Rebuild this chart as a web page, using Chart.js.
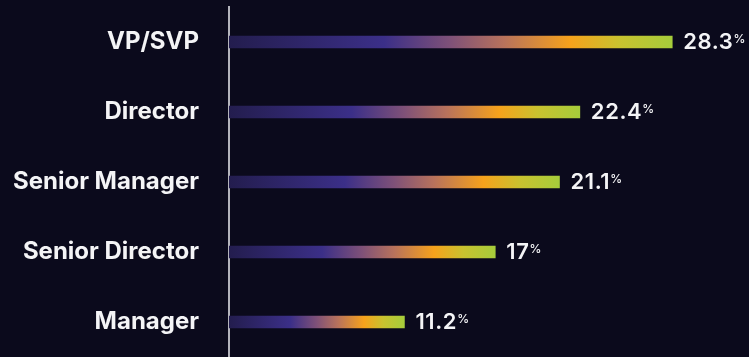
<!DOCTYPE html>
<html lang="en">
<head>
<meta charset="utf-8">
<title>Roles</title>
<script src="https://cdn.jsdelivr.net/npm/chart.js@4.4.1/dist/chart.umd.min.js"></script>
<style>
    html, body { margin: 0; padding: 0; background: #0b0a1c; overflow: hidden; }
</style>
</head>
<body>
<canvas id="rolesChart" width="749" height="357"></canvas>
<script>
// --- Seniority breakdown: horizontal bars with gradient fill ---

const roles = ['VP/SVP', 'Director', 'Senior Manager', 'Senior Director', 'Manager'];
const shares = [28.3, 22.4, 21.1, 17, 11.2];
const valueLabels = ['28.3', '22.4', '21.1', '17', '11.2'];

const gradientStops = [
    [0.00, '#231d4e'],
    [0.35, '#3b2f88'],
    [0.50, '#7f5178'],
    [0.62, '#b8725c'],
    [0.77, '#f6a21c'],
    [0.88, '#c9c22f'],
    [1.00, '#a6cd3b']
];

document.addEventListener('DOMContentLoaded', () => {
    const ctx = document.getElementById('rolesChart').getContext('2d');

    // 1. Each bar gets its own gradient, from the axis to its end
    function barFill(context) {
        const chart = context.chart;
        const area = chart.chartArea;
        if (!area || context.type !== 'data') return '#3b2f88';
        const xScale = chart.scales.x;
        const x0 = xScale.getPixelForValue(0);
        const x1 = xScale.getPixelForValue(context.raw);
        const g = chart.ctx.createLinearGradient(x0, 0, x1, 0);
        gradientStops.forEach(([pos, color]) => g.addColorStop(pos, color));
        return g;
    }

    // 2. Value labels with a small raised percent sign
    const valueLabelPlugin = {
        id: 'valueLabels',
        afterDatasetsDraw(chart) {
            const c = chart.ctx;
            const meta = chart.getDatasetMeta(0);
            c.save();
            c.fillStyle = '#f4f4f6';
            c.textBaseline = 'alphabetic';
            c.textAlign = 'left';
            meta.data.forEach((bar, i) => {
                const x = bar.x + 11;
                const y = bar.y + 7;
                c.letterSpacing = '0.6px';
                c.font = '600 22px Inter';
                c.fillText(valueLabels[i], x, y);
                const w = c.measureText(valueLabels[i]).width;
                c.letterSpacing = '0px';
                c.font = '500 12px Inter';
                c.fillText('%', x + w, y - 6);
            });
            c.restore();
        }
    };

    new Chart(ctx, {
        type: 'bar',
        data: {
            labels: roles,
            datasets: [{
                data: shares,
                backgroundColor: barFill,
                borderWidth: 0,
                barThickness: 12
            }]
        },
        options: {
            indexAxis: 'y',
            responsive: false,
            animation: false,
            layout: { padding: { top: 7, right: 0, bottom: 0, left: 0 } },
            plugins: {
                legend: { display: false },
                tooltip: { enabled: false }
            },
            scales: {
                x: {
                    display: false,
                    min: 0,
                    max: 33.2
                },
                y: {
                    afterFit: (scale) => {
                        scale.width = 229;
                        scale.paddingTop = 0;
                        scale.paddingBottom = 0;
                    },
                    grid: { display: false },
                    border: { display: true, color: '#b4b4bc', width: 2 },
                    ticks: {
                        color: '#f4f4f6',
                        padding: 22,
                        font: { family: 'Inter', size: 24, weight: '700' }
                    }
                }
            }
        },
        plugins: [valueLabelPlugin]
    });
});
</script>
</body>
</html>
